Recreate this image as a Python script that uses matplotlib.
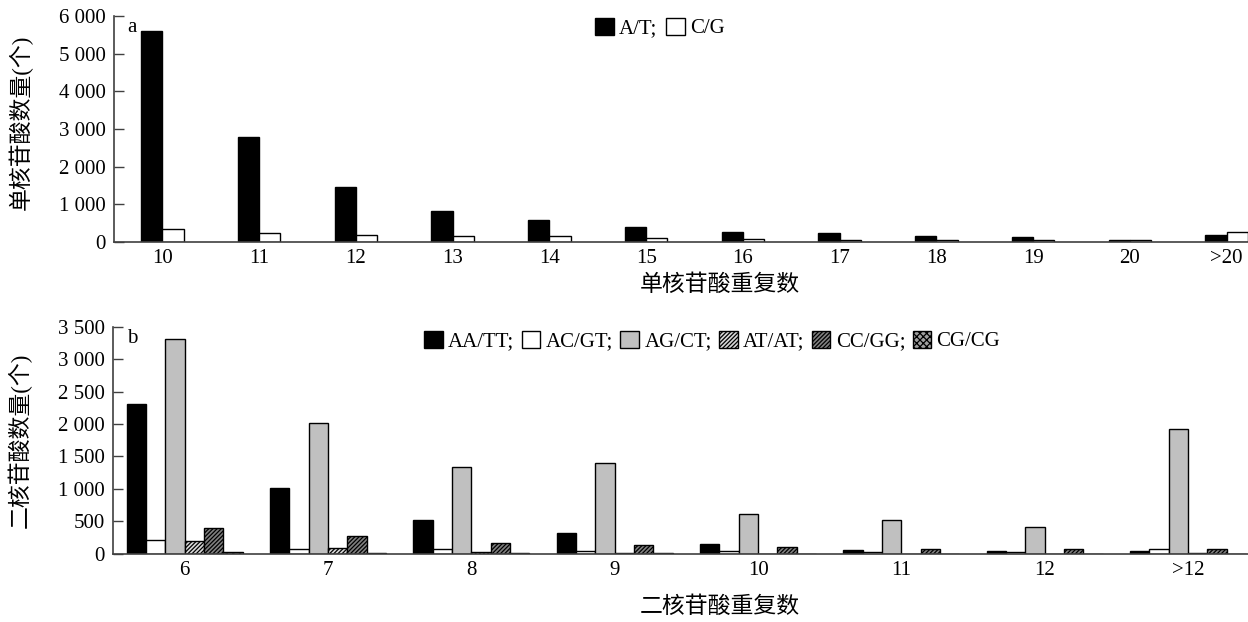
import matplotlib
matplotlib.use("Agg")
import matplotlib.pyplot as plt
import numpy as np

plt.rcParams['font.family'] = ['Liberation Serif', 'Noto Sans CJK SC', 'DejaVu Sans']
plt.rcParams['hatch.linewidth'] = 0.9

# ---- data: panel a (mononucleotide) ----
mono_cats = ['10', '11', '12', '13', '14', '15', '16', '17', '18', '19', '20', '>20']
mono_AT = [5600, 2790, 1460, 820, 590, 400, 265, 240, 160, 135, 65, 195]
mono_CG = [345, 240, 190, 160, 150, 95, 80, 65, 55, 40, 40, 255]

# ---- data: panel b (dinucleotide) ----
di_cats = ['6', '7', '8', '9', '10', '11', '12', '>12']
di_AATT = [2310, 1010, 520, 315, 150, 62, 42, 36]
di_ACGT = [211, 72, 68, 42, 42, 26, 20, 68]
di_AGCT = [3318, 2017, 1338, 1395, 617, 520, 407, 1924]
di_ATAT = [196, 83, 20, 5, 3, 3, 3, 5]
di_CCGG = [392, 278, 165, 130, 99, 77, 77, 77]
di_CGCG = [20, 8, 5, 5, 2, 2, 2, 2]

fig = plt.figure(figsize=(12.48, 6.22), dpi=100)
FS = 15
LFS = 16.5
spine_col = '#404040'

def style(ax):
    for s in ['top', 'right']:
        ax.spines[s].set_visible(False)
    for s in ['left', 'bottom']:
        ax.spines[s].set_color(spine_col)
        ax.spines[s].set_linewidth(1.2)
    ax.tick_params(axis='y', direction='in', length=7, width=1, color=spine_col, labelsize=FS, pad=6)
    ax.tick_params(axis='x', length=0, labelsize=FS, pad=5)

def fmt(v):
    return f"{v:,}".replace(',', ' ')

# ---- panel a ----
ax1 = fig.add_axes([114/1248, (622-242)/622, (1248-114)/1248, (242-16)/622])
x = np.arange(len(mono_cats))
w = 0.22
ax1.bar(x - w/2, mono_AT, w, color='black', edgecolor='black', linewidth=1, label='A/T;')
ax1.bar(x + w/2, mono_CG, w, color='white', edgecolor='black', linewidth=1, label='C/G')
ax1.set_xlim(-0.5, 11.22)
ax1.set_ylim(0, 6000)
yt = np.arange(0, 6001, 1000)
ax1.set_yticks(yt)
ax1.set_yticklabels([fmt(v) for v in yt])
ax1.set_xticks(x)
ax1.set_xticklabels(mono_cats)
style(ax1)
ax1.set_ylabel('单核苷酸数量(个)', fontsize=LFS)
ax1.yaxis.set_label_coords(-0.072, 0.53)
ax1.set_xlabel('单核苷酸重复数', fontsize=LFS)
ax1.xaxis.set_label_coords((720-114)/1134, (242-274)/226)
ax1.text(0.012, 0.99, 'a', transform=ax1.transAxes, va='top', ha='left', fontsize=FS)
ax1.legend(loc='center', bbox_to_anchor=(0.4815, 0.947), ncol=2, frameon=False,
           fontsize=FS, handlelength=0.9, handleheight=0.9, handletextpad=0.25,
           columnspacing=0.4, borderpad=0)

# ---- panel b ----
ax2 = fig.add_axes([113/1248, (622-553.7)/622, (1248-113)/1248, (553.7-326.7)/622])
x2 = np.arange(len(di_cats))
w2 = 0.135
series = [
    (di_AATT, 'AA/TT;', dict(color='black', edgecolor='black')),
    (di_ACGT, 'AC/GT;', dict(color='white', edgecolor='black')),
    (di_AGCT, 'AG/CT;', dict(color='#c0c0c0', edgecolor='black')),
    (di_ATAT, 'AT/AT;', dict(color='#d8d8d8', edgecolor='black', hatch='////////')),
    (di_CCGG, 'CC/GG;', dict(color='#808080', edgecolor='black', hatch='////////')),
    (di_CGCG, 'CG/CG', dict(color='#a0a0a0', edgecolor='black', hatch='xxxxx')),
]
for k, (vals, lab, kw) in enumerate(series):
    ax2.bar(x2 + (k - 2.5) * w2, vals, w2, linewidth=1, label=lab, **kw)
ax2.set_xlim(-0.5, 7.418)
ax2.set_ylim(0, 3500)
yt2 = np.arange(0, 3501, 500)
ax2.set_yticks(yt2)
ax2.set_yticklabels([fmt(v) for v in yt2])
ax2.set_xticks(x2)
ax2.set_xticklabels(di_cats)
style(ax2)
ax2.set_ylabel('二核苷酸数量(个)', fontsize=LFS)
ax2.yaxis.set_label_coords(-0.072, 0.5)
ax2.set_xlabel('二核苷酸重复数', fontsize=LFS)
ax2.xaxis.set_label_coords((720-113)/1135, (553.7-596)/227)
ax2.text(0.012, 0.99, 'b', transform=ax2.transAxes, va='top', ha='left', fontsize=FS)
ax2.legend(loc='center', bbox_to_anchor=(0.528, 0.937), ncol=6, frameon=False,
           fontsize=FS, handlelength=0.9, handleheight=0.9, handletextpad=0.25,
           columnspacing=0.35, borderpad=0)

fig.savefig('out.png', dpi=100)
